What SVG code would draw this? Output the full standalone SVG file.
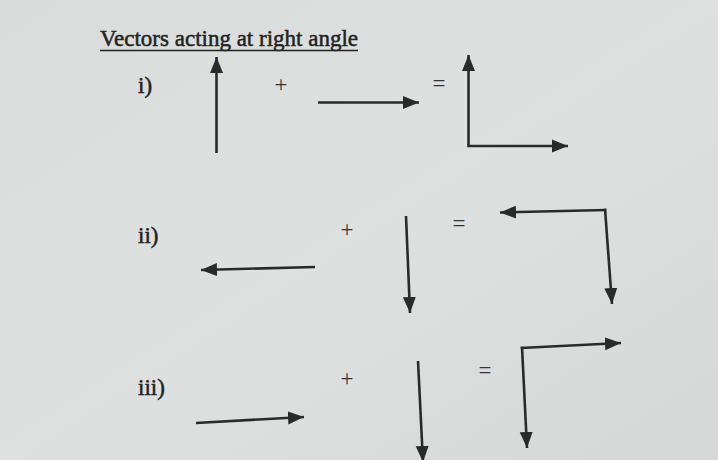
<svg xmlns="http://www.w3.org/2000/svg" width="718" height="460" viewBox="0 0 718 460">
<defs>
<linearGradient id="bg" x1="0" y1="0" x2="1" y2="1">
<stop offset="0" stop-color="#d9dcdb"/>
<stop offset="0.5" stop-color="#dfe1e0"/>
<stop offset="1" stop-color="#d6d8d8"/>
</linearGradient>
<marker id="ah" markerUnits="userSpaceOnUse" markerWidth="17" markerHeight="15" viewBox="0 0 17 15" refX="16" refY="7.5" orient="auto">
<path d="M0,1 L16,7.5 L0,14 Z" fill="#2a2a2a"/>
</marker>
<style>
.v{fill:none;stroke:#2a2a2a;stroke-width:2.6;marker-end:url(#ah);stroke-linejoin:miter}
.lbl{font-family:"Liberation Serif","Times New Roman",serif;fill:#222;font-size:23px;stroke:#222;stroke-width:0.5}
.op{font-family:"Liberation Serif","Times New Roman",serif;fill:#333;font-size:23px;text-anchor:middle}
</style>
</defs>
<rect width="718" height="460" fill="url(#bg)"/>
<g id="title">
<text class="lbl" x="100" y="46" font-size="24" stroke-width="0.2" textLength="258" lengthAdjust="spacingAndGlyphs">Vectors acting at right angle</text>
<line x1="100" y1="50.5" x2="358" y2="50.5" stroke="#222" stroke-width="1.6"/>
</g>
<g id="row1">
<text class="lbl" x="138" y="93">i)</text>
<text class="op" x="281" y="92">+</text>
<text class="op" x="439" y="91">=</text>
</g>
<g id="row2">
<text class="lbl" x="138" y="243">ii)</text>
<text class="op" x="347" y="237">+</text>
<text class="op" x="459" y="231">=</text>
</g>
<g id="row3">
<text class="lbl" x="138" y="395">iii)</text>
<text class="op" x="347" y="386">+</text>
<text class="op" x="485" y="378">=</text>
</g>
<g id="connectors">
<path class="v" d="M216.5,153 L216.5,57"/>
<path class="v" d="M318,102.5 L419,102.5"/>
<path class="v" d="M468.5,146 L468.5,55"/>
<path class="v" d="M467.2,146 L568,146"/>
<path class="v" d="M315,267 L201,270"/>
<path class="v" d="M406,216 L410,313"/>
<path class="v" d="M606.3,210 L500,212.5"/>
<path class="v" d="M605,208.7 L612,304"/>
<path class="v" d="M196,423 L304,417"/>
<path class="v" d="M418,361 L423,462"/>
<path class="v" d="M520.7,348 L621,343"/>
<path class="v" d="M522,346.7 L527,448"/>
</g>
</svg>
